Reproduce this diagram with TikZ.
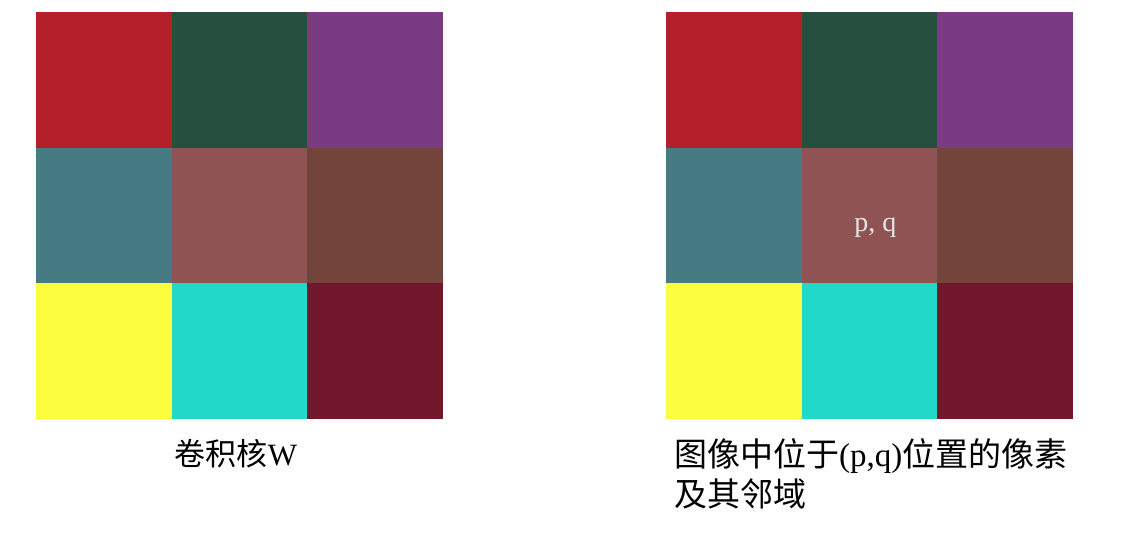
\documentclass[tikz,border=0pt]{standalone}
\usepackage{fontspec}
\setmainfont{Liberation Serif}
\newfontfamily\cjk{Noto Sans CJK SC}
\definecolor{kred}{HTML}{B3202A}
\definecolor{kgreen}{HTML}{26503E}
\definecolor{kpurple}{HTML}{7B3B82}
\definecolor{kteal}{HTML}{477B84}
\definecolor{krose}{HTML}{8E5352}
\definecolor{kbrown}{HTML}{72443B}
\definecolor{kyellow}{HTML}{FDFD3F}
\definecolor{kcyan}{HTML}{22D8C8}
\definecolor{kmaroon}{HTML}{72182D}

\begin{document}
\begin{tikzpicture}[x=1pt,y=-1pt,
    cell/.style={minimum size=135.6pt, inner sep=0pt, outer sep=0pt, anchor=north west},
    caption/.style={font=\cjk\fontsize{31}{38}\selectfont, inner sep=0pt}]
    \useasboundingbox (0,0) rectangle (1126,537);
    % kernel W
    \node[cell, fill=kred] (w11) at (36,12) {};
    \node[cell, fill=kgreen] (w12) at (171.6,12) {};
    \node[cell, fill=kpurple] (w13) at (307.2,12) {};
    \node[cell, fill=kteal] (w21) at (36,147.6) {};
    \node[cell, fill=krose] (w22) at (171.6,147.6) {};
    \node[cell, fill=kbrown] (w23) at (307.2,147.6) {};
    \node[cell, fill=kyellow] (w31) at (36,283.2) {};
    \node[cell, fill=kcyan] (w32) at (171.6,283.2) {};
    \node[cell, fill=kmaroon] (w33) at (307.2,283.2) {};
    \node[caption, anchor=base] (wcap) at (236,465) {卷积核{\rmfamily W}};
    % image neighbourhood
    \node[cell, fill=kred] (p11) at (666,12) {};
    \node[cell, fill=kgreen] (p12) at (801.6,12) {};
    \node[cell, fill=kpurple] (p13) at (937.2,12) {};
    \node[cell, fill=kteal] (p21) at (666,147.6) {};
    \node[cell, fill=krose] (p22) at (801.6,147.6) {};
    \node[cell, fill=kbrown] (p23) at (937.2,147.6) {};
    \node[cell, fill=kyellow] (p31) at (666,283.2) {};
    \node[cell, fill=kcyan] (p32) at (801.6,283.2) {};
    \node[cell, fill=kmaroon] (p33) at (937.2,283.2) {};
    \node[text=white!90!black, font=\fontsize{28}{30}\selectfont, inner sep=0pt]
        (pq) at ([xshift=6pt,yshift=-12pt]p22.center) {p, q};
    \node[caption, font=\cjk\fontsize{33}{40}\selectfont, anchor=base west, align=left] (pcap) at (674,506)
        {图像中位于{\rmfamily(p,q)}位置的像素\\及其邻域};
\end{tikzpicture}
\end{document}
